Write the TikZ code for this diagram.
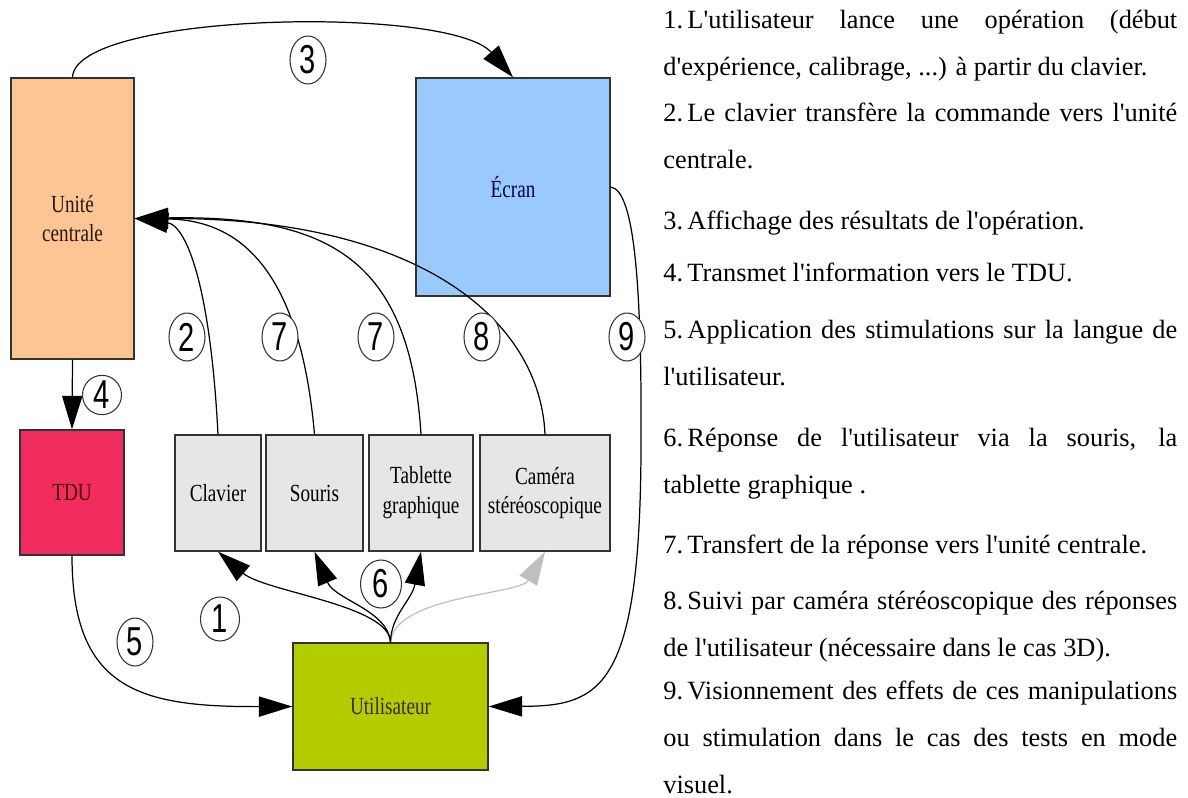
\documentclass[tikz,border=0pt]{standalone}
\usepackage{fontspec}
\setmainfont{Liberation Serif}[Ligatures=TeXOff]
\newfontfamily\boxfont{Liberation Serif}[FakeStretch=0.78]
\newfontfamily\numfont{Liberation Sans}[FakeStretch=0.72]
\usetikzlibrary{arrows.meta,shapes.geometric}

\definecolor{ucorange}{HTML}{FDC593}
\definecolor{ecranblue}{HTML}{99C9FD}
\definecolor{tdured}{HTML}{F02D5E}
\definecolor{devgray}{HTML}{E6E6E6}
\definecolor{usergreen}{HTML}{B2CC00}

\begin{document}
\begin{tikzpicture}[
		x=0.02cm, y=-0.02cm,
		box/.style={rectangle, draw=black!80, line width=0.8pt, align=center, inner sep=2pt, font=\boxfont\fontsize{14}{17}\selectfont},
		device/.style={box, fill=devgray, minimum height=2.32cm},
		num/.style={ellipse, draw=black!80, line width=0.6pt, fill=white, inner sep=0pt, minimum width=0.72cm, minimum height=0.96cm, font=\numfont\fontsize{23}{23}\selectfont},
		arrow/.style={-{Triangle[length=19pt,width=11.5pt]}, line width=0.7pt},
		legend/.style={anchor=north west, inner sep=0pt, text width=10.28cm, align=justify, font=\fontsize{15}{26.5}\selectfont,
			execute at begin node={\hyphenpenalty=10000\relax\tolerance=10000\relax}}
	]
		\useasboundingbox (0,0) rectangle (1188,798);

		% Main blocks
		\node[box, fill=ucorange, text=black!80!brown, minimum width=2.46cm, minimum height=5.62cm] (uc) at (72.5,218.5) {Unité\\centrale};
		\node[box, fill=ecranblue, text=blue!30!black, minimum width=3.88cm, minimum height=4.36cm] (ecran) at (513,187) {Écran};
		\node[box, fill=tdured, text=red!30!black, minimum width=2.08cm, minimum height=2.5cm] (tdu) at (72,492.5) {TDU};
		\node[box, fill=usergreen, text=black!85!olive, minimum width=3.9cm, minimum height=2.54cm] (user) at (390.5,706.5) {Utilisateur};

		% Input devices
		\node[device, minimum width=1.72cm] (clavier) at (218,493) {Clavier};
		\node[device, minimum width=1.94cm] (souris) at (314.5,493) {Souris};
		\node[device, minimum width=2.08cm] (tablette) at (421,493) {Tablette\\graphique};
		\node[device, minimum width=2.6cm] (camera) at (545,493) {Caméra\\stéréoscopique};

		% Arrows
		\draw[arrow] (uc.north) .. controls (75,12) and (450,5) .. (ecran.north);
		\draw[arrow] (uc.south) -- (tdu.north);
		\draw[arrow] (tdu.south) .. controls (72,690) and (140,707) .. (user.west);
		\coordinate (bend9) at (641,450);
		\draw[arrow] (ecran.east) .. controls (635,190) and (642,290) .. (bend9) .. controls (640,690) and (600,706) .. (user.east);

		% Devices to central unit
		\draw[arrow] (clavier.north) .. controls (210,280) and (185,225) .. (uc.east);
		\draw[arrow] (souris.north) .. controls (300,270) and (240,220) .. (uc.east);
		\draw[arrow] (tablette.north) .. controls (410,260) and (330,215) .. (uc.east);
		\draw[arrow] (camera.north) .. controls (540,320) and (420,218) .. (uc.east);

		% User to devices
		\draw[arrow, draw=black!25] (user.north) .. controls (395,595) and (520,595) .. (camera.south);
		\draw[arrow] (user.north) .. controls (390,605) and (265,592) .. (clavier.south);
		\draw[arrow] (user.north) .. controls (388,610) and (335,600) .. (souris.south);
		\draw[arrow] (user.north) .. controls (391,615) and (412,600) .. (tablette.south);

		% Step numbers
		\node[num] (n3) at (308,60) {3};
		\node[num, minimum width=0.78cm, minimum height=0.74cm] (n4) at (102,395) {4};
		\node[num] (n2) at (187,337) {2};
		\node[num] (n7a) at (280,337) {7};
		\node[num] (n7b) at (376,337) {7};
		\node[num] (n8) at (482,337) {8};
		\node[num] (n9) at (627,337) {9};
		\node[num, minimum width=0.82cm] (n6) at (381,584) {6};
		\node[num, minimum width=0.78cm, minimum height=0.88cm] (n1) at (220,619) {1};
		\node[num] (n5) at (135,642) {5};

		% Legend
		\node[legend] (item1) at (663,10) {1.\,L'utilisateur lance une opération (début\linebreak d'expérience, calibrage, ...) à partir du clavier.};
		\node[legend] (item2) at (663,103) {2.\,Le clavier transfère la commande vers l'unité\linebreak centrale.};
		\node[legend] (item3) at (663,211) {3.\,Affichage des résultats de l'opération.};
		\node[legend] (item4) at (663,263) {4.\,Transmet l'information vers le TDU.};
		\node[legend] (item5) at (663,320) {5.\,Application des stimulations sur la langue de\linebreak l'utilisateur.};
		\node[legend] (item6) at (663,428) {6.\,Réponse de l'utilisateur via la souris, la\linebreak tablette graphique .};
		\node[legend] (item7) at (663,535) {7.\,Transfert de la réponse vers l'unité centrale.};
		\node[legend] (item8) at (663,591) {8.\,Suivi par caméra stéréoscopique des réponses\linebreak de l'utilisateur (nécessaire dans le cas 3D).};
		\node[legend] (item9) at (663,681) {9.\,Visionnement des effets de ces manipulations\linebreak ou stimulation dans le cas des tests en mode\linebreak visuel.};
	\end{tikzpicture}
\end{document}
